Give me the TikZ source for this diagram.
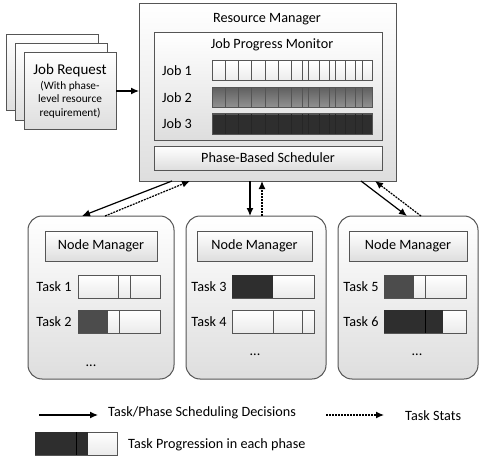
\documentclass[tikz,border=0pt]{standalone}
\usepackage{fontspec}
\setmainfont{Carlito}
\usetikzlibrary{arrows.meta}
\begin{document}
\begin{tikzpicture}[x=1pt,y=-1pt,font=\fontsize{14.2}{16}\selectfont,
  mybox/.style={draw=boxline,line width=1pt,top color=white,bottom color=black!13,inner sep=0,outer sep=0,anchor=north west},
  mybar/.style={draw=boxline,line width=0.9pt,top color=white,bottom color=black!8,inner sep=0,outer sep=0,anchor=north west,minimum width=82,minimum height=23},
  myfill/.style={fill=darkbar,inner sep=0,outer sep=0,anchor=north west,minimum height=23},
  mysolid/.style={line width=1.2pt,-{Latex[length=8pt,width=7pt]}},
  mydash/.style={line width=1.2pt,dash pattern=on 2pt off 1pt,-{Latex[length=8pt,width=7pt]}}]
\definecolor{boxline}{HTML}{555555}
\definecolor{darkbar}{HTML}{2E2E2E}
\definecolor{midbar}{HTML}{4C4C4C}
\useasboundingbox (0,0) rectangle (485,460);
\fill[white] (0,0) rectangle (485,460);
  \foreach \nme/\pos in {cardc/6,cardb/15}
  {  \node [mybox,minimum width=92,minimum height=76] (\nme) at (\pos,\pos+29) {};}
\node [mybox,minimum width=92,minimum height=76,align=center,font=\fontsize{11.3}{13.5}\selectfont] (carda) at (24,53)
  {{\fontsize{15}{16}\selectfont Job Request}\\[1pt](With phase-\\level resource\\requirement)};
\node [mybox,minimum width=257,minimum height=177] (rm) at (139,4) {};
\node at (267,19) {Resource Manager};
\node [mybox,minimum width=228,minimum height=107] (monitor) at (154,33) {};
\node at (272,45) {Job Progress Monitor};
\node [mybox,minimum width=228,minimum height=24] (sched) at (154,146) {Phase-Based Scheduler};
  \foreach \pos/\ytop/\clr/\clrb/\clrd in {1/61/white/black!8/boxline,2/88/black!62/black!42/boxline,3/114/darkbar/darkbar/black!85}
  {  \node at (177,\ytop+10) {Job \pos};
     \node [mybox,top color=\clr,bottom color=\clrb,minimum width=160,minimum height=20] (job\pos) at (212,\ytop) {};
     \foreach \xdiv in {225.7,238.3,251.7,265,278.3,291.7,302.3,308.3,319,329.3,335.7,345.3,355,362.3}
     {  \draw [\clrd,line width=0.8pt] (\xdiv,\ytop) -- (\xdiv,\ytop+20);}
  }
  \foreach \pos/\xleft/\wdt in {1/28/146,2/186/140,3/338/140}
  {  \node [mybox,rounded corners=14,minimum width=\wdt,minimum height=163] (nm\pos) at (\xleft,216) {};}
\node [mybox,minimum width=112,minimum height=30] (head1) at (45,231) {Node Manager};
\node [mybox,minimum width=115,minimum height=30] (head2) at (197,231) {Node Manager};
\node [mybox,minimum width=118,minimum height=30] (head3) at (349,231) {Node Manager};
  \foreach \pos/\xtxt/\xbar/\ybar in {1/54/78/275,2/54/78/310,3/209/232/275,4/209/232/310,5/361/384/275,6/361/384/310}
  {  \node at (\xtxt,\ybar+12) {Task \pos};
     \node [mybar] (task\pos) at (\xbar,\ybar) {};}
\node [myfill,fill=midbar,minimum width=30] (fill2) at (78,310) {};
\node [myfill,minimum width=41] (fill3) at (232,275) {};
\node [myfill,fill=midbar,minimum width=30] (fill5) at (384,275) {};
\node [myfill,minimum width=59] (fill6) at (384,310) {};
  \foreach \xdiv/\ytop/\clrd in {118.7/275/boxline,130.7/275/boxline,119/310/boxline,273/310/boxline,302.7/310/boxline,425/275/boxline,425/310/black}
  {  \draw [\clrd,line width=0.9pt] (\xdiv,\ytop) -- (\xdiv,\ytop+23);}
\node at (91,366) {...};
\node at (255,355) {...};
\node at (417,355) {...};
\draw [mysolid] (carda.east) -- (carda.east -| rm.west);
\draw [mysolid] ([xshift=33]rm.south west) -- ([xshift=54]nm1.north west);
\draw [mydash] ([xshift=77]nm1.north west) -- ([xshift=51]rm.south west);
\draw [mysolid] ([xshift=111]rm.south west) -- ([xshift=64]nm2.north west);
\draw [mydash] ([xshift=76]nm2.north west) -- ([xshift=123]rm.south west);
\draw [mysolid] ([xshift=222]rm.south west) -- ([xshift=69]nm3.north west);
\draw [mydash] ([xshift=83]nm3.north west) -- ([xshift=236]rm.south west);
\coordinate (solidl) at (39,415);
\coordinate (solidr) at (98,415);
\coordinate (dashl) at (326,415);
\coordinate (dashr) at (384,415);
\draw [mysolid] (solidl) -- (solidr);
\draw [mydash] (dashl) -- (dashr);
\node [anchor=west,inner sep=0] (legsolid) at (108,413) {Task/Phase Scheduling Decisions};
\node [anchor=west,inner sep=0] (legdash) at (405,416) {Task Stats};
\node [mybar] (legbar) at (35,432) {};
\node [myfill,minimum width=53] (legfill) at (35,432) {};
\draw [black,line width=0.9pt] (76,432) -- (76,455);
\node [anchor=west,inner sep=0] (legprog) at (128,445) {Task Progression in each phase};
\end{tikzpicture}
\end{document}
